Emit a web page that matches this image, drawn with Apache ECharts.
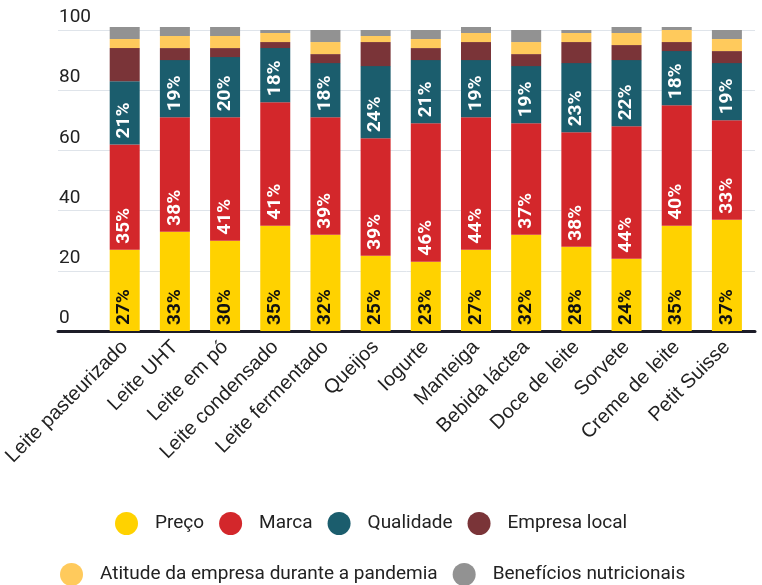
<!DOCTYPE html>
<html>
<head>
<meta charset="utf-8">
<script src="https://cdn.jsdelivr.net/npm/echarts@6/dist/echarts.min.js"></script>
<style>
  html, body { margin: 0; padding: 0; background: #ffffff; }
  #chart { width: 762px; height: 585px; }
</style>
</head>
<body>
<div id="chart"></div>
<script>
// Products evaluated
const categories = ['Leite pasteurizado', 'Leite UHT', 'Leite em pó', 'Leite condensado',
  'Leite fermentado', 'Queijos', 'Iogurte', 'Manteiga', 'Bebida láctea',
  'Doce de leite', 'Sorvete', 'Creme de leite', 'Petit Suisse'];

// Share (%) of each purchase criterion per product
const preco      = [27, 33, 30, 35, 32, 25, 23, 27, 32, 28, 24, 35, 37];
const marca      = [35, 38, 41, 41, 39, 39, 46, 44, 37, 38, 44, 40, 33];
const qualidade  = [21, 19, 20, 18, 18, 24, 21, 19, 19, 23, 22, 18, 19];
const empresa    = [11, 4, 3, 2, 3, 8, 4, 6, 4, 7, 5, 3, 4];
const atitude    = [3, 4, 4, 3, 4, 2, 3, 3, 4, 3, 4, 4, 4];
const beneficios = [4, 3, 3, 1, 4, 2, 3, 2, 4, 1, 2, 1, 3];

const yTicks = [0, 20, 40, 60, 80, 100];

const seriesDefs = [
  { name: 'Preço', data: preco, color: '#FFD200', label: '#111111' },
  { name: 'Marca', data: marca, color: '#D3272B', label: '#ffffff' },
  { name: 'Qualidade', data: qualidade, color: '#1B5D6D', label: '#ffffff' },
  { name: 'Empresa local', data: empresa, color: '#7A3438', label: null },
  { name: 'Atitude da empresa durante a pandemia', data: atitude, color: '#FFCA5C', label: null },
  { name: 'Benefícios nutricionais', data: beneficios, color: '#929292', label: null }
];

const font = 'Roboto, "Noto Sans", sans-serif';
const axisFont = '"Liberation Sans", Arial, sans-serif';

const chart = echarts.init(document.getElementById('chart'), null, { renderer: 'canvas' });

const series = seriesDefs.map(s => ({
  name: s.name,
  type: 'bar',
  stack: 'total',
  xAxisIndex: 1,
  yAxisIndex: 1,
  barWidth: 30,
  clip: false,
  itemStyle: { color: s.color },
  emphasis: { disabled: true },
  label: s.label ? {
    show: true,
    position: 'insideBottom',
    distance: 6,
    rotate: 90,
    align: 'left',
    verticalAlign: 'middle',
    formatter: '{c}%',
    color: s.label,
    fontFamily: font,
    fontWeight: 'bold',
    fontSize: 19
  } : { show: false },
  data: s.data
}));

const legendCommon = {
  orient: 'horizontal',
  icon: 'circle',
  padding: 0,
  itemWidth: 23,
  itemHeight: 23,
  itemGap: 15,
  selectedMode: false,
  textStyle: { fontFamily: font, fontSize: 19, color: '#222222', padding: [0, 0, 0, 12] }
};

chart.setOption({
  animation: false,
  backgroundColor: '#ffffff',
  grid: [
    // background frame: gridlines, y labels and base line
    { left: 58, right: 7, top: 30, bottom: 254 },
    // bars
    { left: 98, right: 10, top: 30, bottom: 254 }
  ],
  legend: [
    Object.assign({}, legendCommon, { left: 115, top: 512, data: seriesDefs.slice(0, 4).map(s => s.name) }),
    Object.assign({}, legendCommon, { left: 60, top: 563, data: seriesDefs.slice(4).map(s => s.name) })
  ],
  xAxis: [
    {
      gridIndex: 0,
      type: 'value',
      min: 0,
      max: 1,
      axisLine: { show: true, onZero: true, lineStyle: { color: '#1c1c28', width: 3 } },
      axisTick: { show: false },
      axisLabel: { show: false },
      splitLine: { show: false }
    },
    {
      gridIndex: 1,
      type: 'category',
      data: categories,
      axisLine: { show: false },
      axisTick: { show: false },
      axisLabel: {
        interval: 0,
        rotate: 45,
        margin: 13,
        fontFamily: axisFont,
        fontSize: 20,
        color: '#222222'
      }
    }
  ],
  yAxis: [
    {
      gridIndex: 0,
      type: 'value',
      min: 0,
      max: 100,
      interval: 20,
      axisLine: { show: false },
      axisTick: { show: false },
      splitLine: { show: true, lineStyle: { color: '#dfe4ea', width: 1 } },
      axisLabel: {
        inside: true,
        margin: 1,
        align: 'left',
        verticalAlign: 'bottom',
        padding: [0, 0, 3, 0],
        fontFamily: font,
        fontSize: 19,
        color: '#222222',
        formatter: v => (yTicks.indexOf(v) >= 0 ? String(v) : '')
      }
    },
    {
      gridIndex: 1,
      type: 'value',
      min: 0,
      max: 100,
      interval: 20,
      show: false,
      splitLine: { show: false }
    }
  ],
  series: series
});
</script>
</body>
</html>
